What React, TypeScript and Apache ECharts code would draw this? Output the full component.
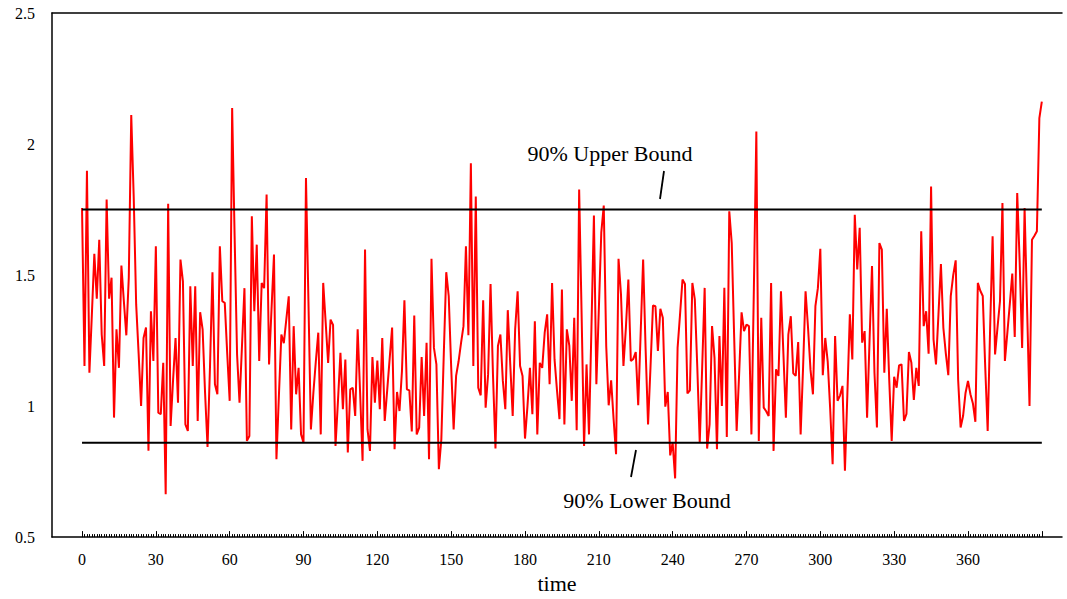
import React, { useEffect, useRef } from "react";
import * as echarts from "echarts";

// Observed series (time = index 0..390)
const values: number[] = [
  1.756, 1.153, 1.898, 1.127, 1.35, 1.581, 1.41, 1.635, 1.273, 1.153,
  1.788, 1.41, 1.49, 0.956, 1.293, 1.146, 1.536, 1.4, 1.27, 1.49,
  2.111, 1.8, 1.388, 1.2, 1.0, 1.26, 1.3, 0.83, 1.362, 1.172,
  1.61, 0.975, 0.969, 1.165, 0.664, 1.772, 0.924, 1.1, 1.26, 1.013,
  1.559, 1.476, 0.93, 0.905, 1.457, 1.153, 1.457, 0.943, 1.358, 1.293,
  1.05, 0.844, 1.15, 1.511, 1.083, 1.045, 1.61, 1.4, 1.394, 1.2,
  1.02, 2.137, 1.65, 1.197, 1.013, 1.23, 1.45, 0.867, 0.886, 1.724,
  1.362, 1.616, 1.172, 1.47, 1.45, 1.807, 1.159, 1.37, 1.578, 0.797,
  1.04, 1.273, 1.24, 1.33, 1.419, 0.911, 1.305, 1.045, 1.146, 0.892,
  0.86, 1.87, 1.4, 0.911, 1.05, 1.17, 1.28, 0.892, 1.47, 1.32,
  1.165, 1.33, 1.31, 0.848, 1.02, 1.203, 0.988, 1.178, 0.823, 1.064,
  1.07, 0.962, 1.293, 1.05, 0.791, 1.597, 0.911, 0.829, 1.187, 1.013,
  1.174, 0.988, 1.26, 0.943, 1.06, 1.18, 1.3, 0.835, 1.054, 0.981,
  1.134, 1.404, 1.064, 1.06, 0.903, 1.346, 0.892, 0.918, 1.187, 0.962,
  1.242, 0.797, 1.562, 1.222, 1.159, 0.759, 0.873, 1.2, 1.511, 1.42,
  1.15, 0.911, 1.115, 1.17, 1.24, 1.305, 1.61, 1.27, 1.927, 1.153,
  1.8, 1.07, 1.041, 1.404, 0.994, 1.12, 1.466, 1.115, 0.838, 1.229,
  1.273, 1.096, 0.988, 1.366, 1.16, 0.962, 1.293, 1.438, 1.153, 1.115,
  0.876, 1.0, 1.146, 0.969, 1.324, 0.892, 1.165, 1.146, 1.28, 1.35,
  1.083, 1.47, 1.178, 1.06, 0.95, 1.445, 0.93, 1.293, 1.231, 1.02,
  1.337, 0.908, 1.826, 1.35, 0.848, 1.159, 0.892, 1.3, 1.727, 1.083,
  1.37, 1.663, 1.765, 1.229, 1.003, 1.098, 0.95, 0.816, 1.562, 1.426,
  1.153, 1.3, 1.483, 1.172, 1.18, 1.206, 1.003, 1.28, 1.559, 1.22,
  0.93, 1.15, 1.384, 1.381, 1.21, 1.371, 1.337, 0.998, 1.054, 0.812,
  0.86, 0.724, 1.222, 1.35, 1.483, 1.466, 1.048, 1.06, 1.47, 1.407,
  1.15, 0.86, 1.15, 1.451, 0.838, 0.93, 1.305, 1.184, 0.835, 1.267,
  1.0, 1.451, 0.882, 1.743, 1.622, 1.26, 0.905, 1.12, 1.358, 1.286,
  1.311, 1.305, 0.892, 1.45, 2.048, 0.867, 1.337, 0.994, 0.98, 0.962,
  1.47, 0.829, 1.14, 1.115, 1.438, 1.2, 0.956, 1.273, 1.343, 1.125,
  1.115, 1.244, 0.892, 1.15, 1.438, 1.3, 1.14, 1.045, 1.381, 1.45,
  1.6, 1.118, 1.26, 1.17, 0.99, 0.778, 1.267, 1.02, 1.04, 1.077,
  0.753, 1.05, 1.35, 1.178, 1.73, 1.521, 1.68, 1.242, 1.286, 0.956,
  1.25, 1.534, 1.127, 0.918, 1.622, 1.597, 1.127, 1.371, 1.1, 0.867,
  1.112, 1.07, 1.155, 1.159, 0.943, 0.97, 1.206, 1.165, 1.023, 1.146,
  1.077, 1.667, 1.305, 1.362, 1.2, 1.838, 1.254, 1.159, 1.35, 1.542,
  1.298, 1.2, 1.118, 1.42, 1.5, 1.556, 1.1, 0.918, 0.962, 1.05,
  1.096, 1.045, 1.01, 0.94, 1.47, 1.44, 1.42, 1.15, 0.905, 1.3,
  1.648, 1.197, 1.3, 1.4, 1.775, 1.172, 1.28, 1.39, 1.506, 1.264,
  1.813, 1.55, 1.222, 1.756, 1.38, 1.0, 1.635, 1.65, 1.667, 2.099,
  2.162,
];

const upperBound = 1.75;
const lowerBound = 0.86;
const xLabelValues = [0, 30, 60, 90, 120, 150, 180, 210, 240, 270, 300, 330, 360];
const majorTickValues = [0, 30, 60, 90, 120, 150, 180, 210, 240, 270, 300, 330, 360, 390];
const xMin = -12.2;
const xMax = 398.2;
const yMin = 0.5;
const yMax = 2.5;
const yStep = 0.5;
const upperLabel = "90% Upper Bound";
const lowerLabel = "90% Lower Bound";
const xAxisName = "time";

export default function App() {
  const ref = useRef<HTMLDivElement>(null);

  useEffect(() => {
    if (!ref.current) return;
    const chart = echarts.init(ref.current, null, { renderer: "svg" });
    const serif = "Liberation Serif";
    const seriesData = values.map((v, i) => [i, v]);
    const allTicks = values.map((_, i) => i);
    const last = values.length - 1;

    chart.setOption({
      animation: false,
      backgroundColor: "#ffffff",
      grid: { left: 52, right: 5, top: 13, bottom: 61, containLabel: false },
      xAxis: [
        {
          type: "value",
          min: xMin,
          max: xMax,
          position: "bottom",
          axisLine: { show: true, onZero: false, lineStyle: { color: "#000", width: 1.5 } },
          axisTick: {
            show: true,
            inside: true,
            length: 3,
            customValues: allTicks,
            lineStyle: { color: "#000", width: 1 },
          },
          axisLabel: {
            customValues: xLabelValues,
            color: "#000",
            fontFamily: serif,
            fontSize: 16,
            margin: 14,
          },
          splitLine: { show: false },
          name: xAxisName,
          nameLocation: "middle",
          nameGap: 34,
          nameTextStyle: { color: "#000", fontFamily: serif, fontSize: 22 },
        },
        {
          type: "value",
          min: xMin,
          max: xMax,
          position: "bottom",
          axisLine: { show: false, onZero: false },
          axisTick: {
            show: true,
            inside: true,
            length: 6,
            customValues: majorTickValues,
            lineStyle: { color: "#000", width: 1 },
          },
          axisLabel: { show: false },
          splitLine: { show: false },
        },
        {
          type: "value",
          min: xMin,
          max: xMax,
          position: "top",
          axisLine: { show: true, onZero: false, lineStyle: { color: "#000", width: 1.5 } },
          axisTick: { show: false },
          axisLabel: { show: false },
          splitLine: { show: false },
        },
      ],
      yAxis: {
        type: "value",
        min: yMin,
        max: yMax,
        interval: yStep,
        axisLine: { show: true, onZero: false, lineStyle: { color: "#000", width: 1.5 } },
        axisTick: { show: false },
        axisLabel: {
          color: "#000",
          fontFamily: serif,
          fontSize: 16,
          margin: 17,
        },
        splitLine: { show: false },
      },
      series: [
        {
          type: "line",
          data: seriesData,
          xAxisIndex: 0,
          symbol: "none",
          lineStyle: { color: "#ff0000", width: 2 },
          z: 2,
        },
        {
          type: "line",
          data: [
            [0, upperBound],
            [last, upperBound],
          ],
          xAxisIndex: 0,
          symbol: "none",
          lineStyle: { color: "#000", width: 2 },
          z: 3,
        },
        {
          type: "line",
          data: [
            [0, lowerBound],
            [last, lowerBound],
          ],
          xAxisIndex: 0,
          symbol: "none",
          lineStyle: { color: "#000", width: 2 },
          z: 3,
        },
      ],
      graphic: [
        {
          type: "text",
          x: 610,
          y: 153,
          style: {
            text: upperLabel,
            align: "center",
            verticalAlign: "middle",
            fontFamily: serif,
            fontSize: 22,
            fill: "#000",
          },
        },
        {
          type: "line",
          shape: { x1: 660, y1: 199, x2: 664, y2: 171 },
          style: { stroke: "#000", lineWidth: 1.8 },
        },
        {
          type: "text",
          x: 647,
          y: 500,
          style: {
            text: lowerLabel,
            align: "center",
            verticalAlign: "middle",
            fontFamily: serif,
            fontSize: 22,
            fill: "#000",
          },
        },
        {
          type: "line",
          shape: { x1: 631, y1: 477, x2: 636, y2: 450 },
          style: { stroke: "#000", lineWidth: 1.8 },
        },
      ],
    });

    return () => chart.dispose();
  }, []);

  return (
    <div
      ref={ref}
      style={{ position: "absolute", left: 0, top: 0, width: 1067, height: 599 }}
    />
  );
}
